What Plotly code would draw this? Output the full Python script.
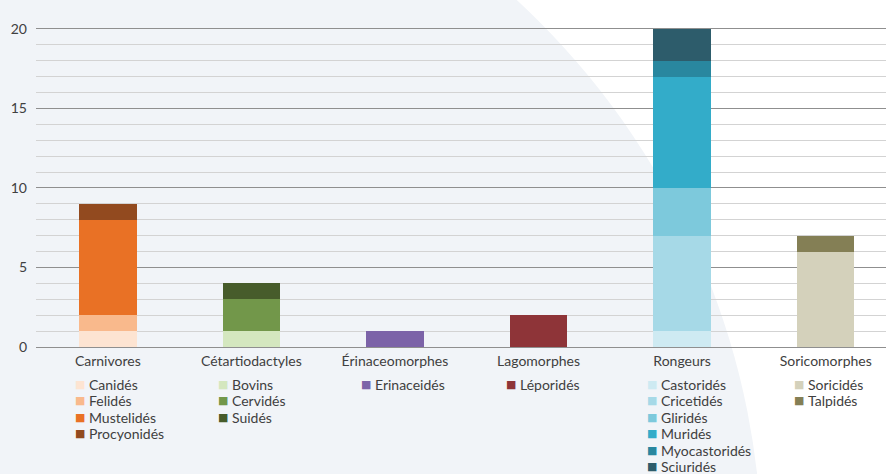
import plotly.graph_objects as go

categories = ["Carnivores", "Cétartiodactyles", "Érinaceomorphes", "Lagomorphes", "Rongeurs", "Soricomorphes"]

carnivores_names = ["Canidés", "Felidés", "Mustelidés", "Procyonidés"]
carnivores_values = [1, 1, 6, 1]
carnivores_colors = ["#fde4d2", "#f9b98c", "#e97125", "#924a1f"]

cetart_names = ["Bovins", "Cervidés", "Suidés"]
cetart_values = [1, 2, 1]
cetart_colors = ["#d4e7bf", "#72974a", "#475c2b"]

erina_names = ["Erinaceidés"]
erina_values = [1]
erina_colors = ["#7c63a8"]

lago_names = ["Léporidés"]
lago_values = [2]
lago_colors = ["#8e3438"]

rong_names = ["Castoridés", "Cricetidés", "Gliridés", "Muridés", "Myocastoridés", "Sciuridés"]
rong_values = [1, 6, 3, 7, 1, 2]
rong_colors = ["#ceeaf2", "#a6d9e7", "#7dc9dc", "#33acc9", "#29879f", "#2d5c6b"]

sori_names = ["Soricidés", "Talpidés"]
sori_values = [6, 1]
sori_colors = ["#d4d1bb", "#847f55"]

groups = [
    (carnivores_names, carnivores_values, carnivores_colors),
    (cetart_names, cetart_values, cetart_colors),
    (erina_names, erina_values, erina_colors),
    (lago_names, lago_values, lago_colors),
    (rong_names, rong_values, rong_colors),
    (sori_names, sori_values, sori_colors),
]

# layout geometry (pixels)
W, H = 886, 474
ML, MR, MT, MB = 36, 0, 13, 127
PW = W - ML - MR
PH = H - MT - MB

def px_to_paper_x(px):
    return (px - ML) / PW

def px_to_paper_y(py):
    return (H - MB - py) / PH

legend_text_x = [87, 230, 373, 518, 659, 806]
legend_row0_y = 384.5
legend_row_step = 16.4

FONT = "Lato, 'Open Sans', sans-serif"
TXT = "#404040"

fig = go.Figure()
annotations = []
for gi, (names, vals, cols) in enumerate(groups):
    for k, (n, v, c) in enumerate(zip(names, vals, cols)):
        fig.add_trace(go.Bar(
            x=[categories[gi]], y=[v], name=n,
            marker=dict(color=c, line=dict(width=0)),
            width=0.4, showlegend=False,
            hovertemplate=n + ": %{y}<extra></extra>",
        ))
        ry = legend_row0_y + k * legend_row_step
        # legend swatch
        annotations.append(dict(
            text="■", xref="paper", yref="paper",
            x=px_to_paper_x(legend_text_x[gi] - 7), y=px_to_paper_y(ry),
            xanchor="center", yanchor="middle", showarrow=False,
            font=dict(family="DejaVu Sans", size=11, color=c),
        ))
        # legend label
        annotations.append(dict(
            text=n, xref="paper", yref="paper",
            x=px_to_paper_x(legend_text_x[gi]), y=px_to_paper_y(ry),
            xanchor="left", yanchor="middle", showarrow=False,
            font=dict(family=FONT, size=14, color=TXT),
        ))

# background circle (light grey-blue area)
cx, cy, R = 0, 560, 762
fig.add_shape(
    type="circle", xref="paper", yref="paper", layer="below",
    x0=px_to_paper_x(cx - R), x1=px_to_paper_x(cx + R),
    y0=px_to_paper_y(cy + R), y1=px_to_paper_y(cy - R),
    fillcolor="#f1f4f8", line=dict(width=0),
)

fig.update_layout(
    width=W, height=H,
    margin=dict(l=ML, r=MR, t=MT, b=MB, autoexpand=False),
    paper_bgcolor="#ffffff",
    plot_bgcolor="rgba(0,0,0,0)",
    barmode="stack",
    showlegend=False,
    font=dict(family=FONT, size=13, color=TXT),
    annotations=annotations,
    xaxis=dict(
        type="category", categoryorder="array", categoryarray=categories,
        range=[-0.5, 5.42], showgrid=False, showline=False, zeroline=False,
        ticks="", tickfont=dict(family=FONT, size=14, color=TXT),
        ticklabelstandoff=4, automargin=False,
    ),
    yaxis=dict(
        range=[0, 21], dtick=5, tick0=0,
        showgrid=True, gridcolor="#8f8f8f", gridwidth=1,
        zeroline=True, zerolinecolor="#8f8f8f", zerolinewidth=1,
        showline=False, ticks="",
        tickfont=dict(family=FONT, size=14, color=TXT),
        ticklabelstandoff=8, automargin=False,
        minor=dict(dtick=1, tick0=0, showgrid=True, gridcolor="#d3d3d3", gridwidth=1),
    ),
)

fig.write_html(
    "out.html",
    config={"displayModeBar": False},
    post_script="document.body.style.margin='0';document.body.style.padding='0';document.body.style.overflow='hidden';",
)
